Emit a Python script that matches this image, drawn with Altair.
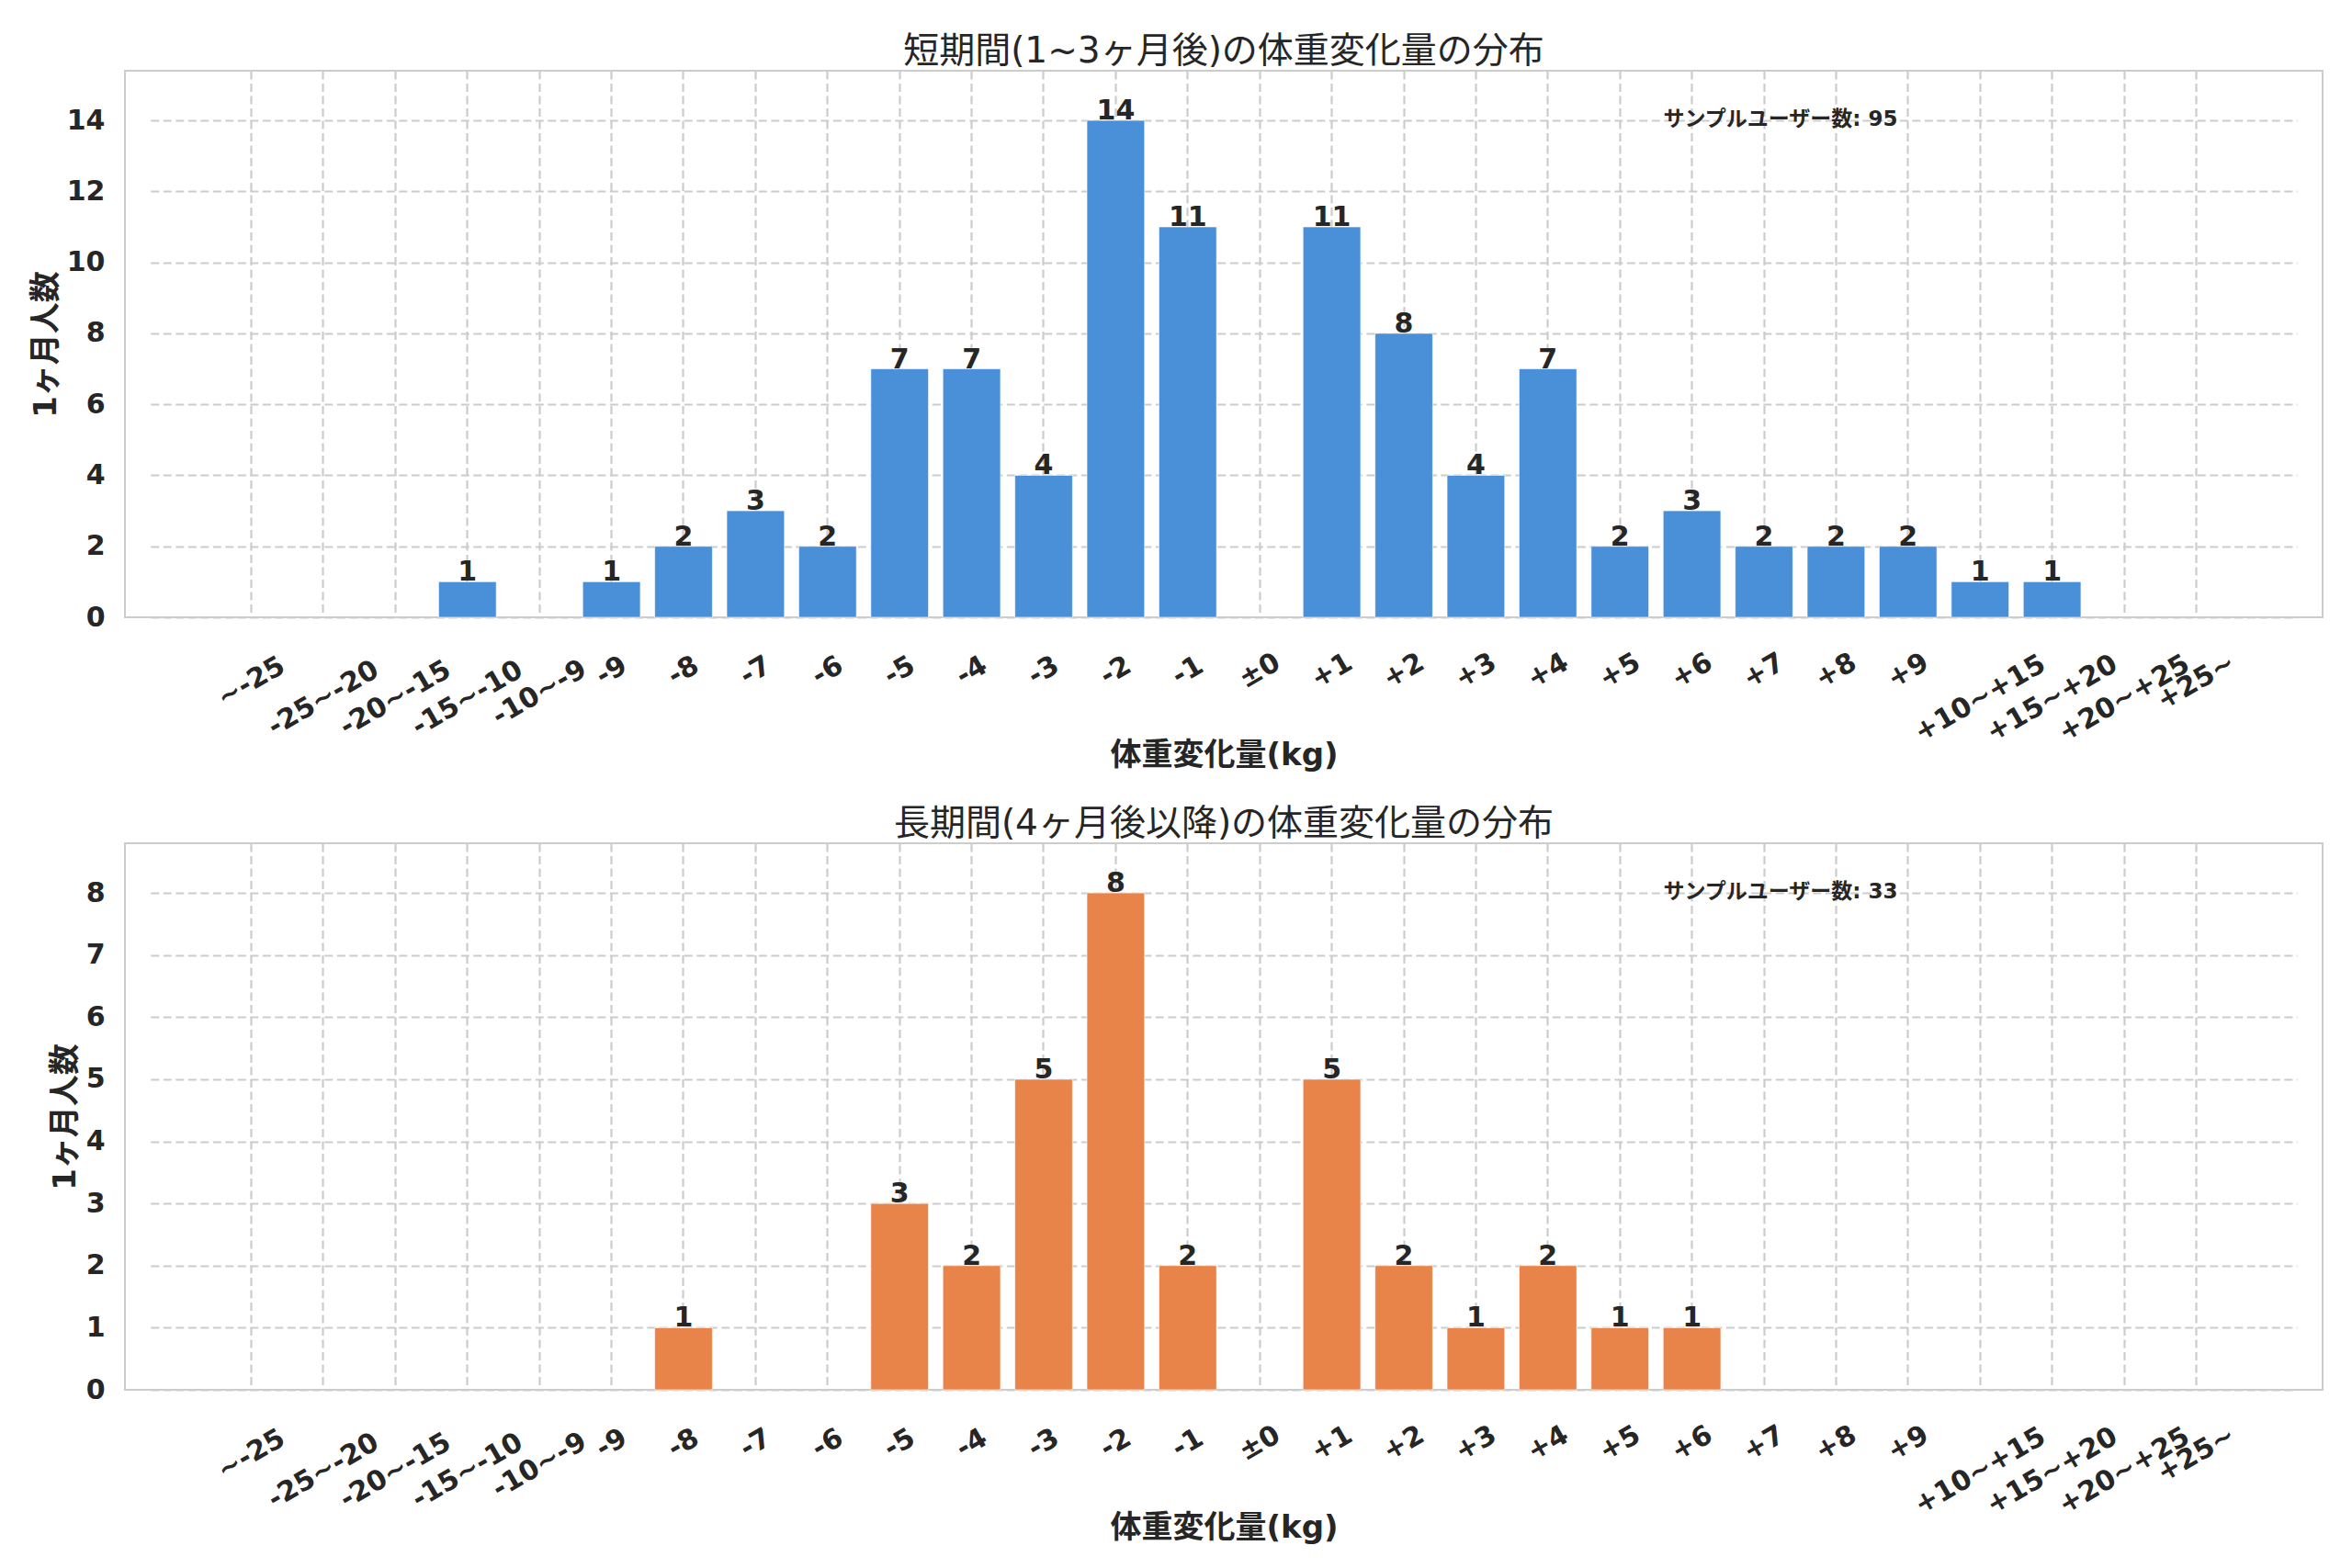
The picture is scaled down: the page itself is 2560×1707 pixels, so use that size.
import altair as alt
import pandas as pd

categories = ["~-25", "-25~-20", "-20~-15", "-15~-10", "-10~-9", "-9", "-8", "-7", "-6",
              "-5", "-4", "-3", "-2", "-1", "±0", "+1", "+2", "+3", "+4", "+5", "+6",
              "+7", "+8", "+9", "+10~+15", "+15~+20", "+20~+25", "+25~"]
short_counts = [0, 0, 0, 1, 0, 1, 2, 3, 2, 7, 7, 4, 14, 11, 0, 11, 8, 4, 7, 2, 3,
                2, 2, 2, 1, 1, 0, 0]
long_counts = [0, 0, 0, 0, 0, 0, 1, 0, 0, 3, 2, 5, 8, 2, 0, 5, 2, 1, 2, 1, 1,
               0, 0, 0, 0, 0, 0, 0]
short_yticks = [0, 2, 4, 6, 8, 10, 12, 14]
long_yticks = [0, 1, 2, 3, 4, 5, 6, 7, 8]

short_title = "短期間(1~3ヶ月後)の体重変化量の分布"
long_title = "長期間(4ヶ月後以降)の体重変化量の分布"
x_title = "体重変化量(kg)"
y_title = "1ヶ月人数"
note_label = "サンプルユーザー数"

short_color = "#4A90D9"
long_color = "#E8844A"

W, H = 2392, 595
FONT = "DejaVu Sans, Noto Sans CJK JP"
INK = "#262626"
GRID = "#cccccc"

# band layout: outer margin of 1.355 steps on each side (matplotlib-like x margins)
N = len(categories)
OUTER = 1.355
STEP = W / (N - 0.2 + 2 * OUTER)
EXTRA = (OUTER - 1) * STEP


def panel(counts, color, title, yticks):
    df = pd.DataFrame({"cat": categories, "n": counts})
    ymax = max(counts) * 1.1
    total = sum(counts)
    x = alt.X(
        "cat:N",
        sort=categories,
        title=x_title,
        scale=alt.Scale(domain=categories, paddingInner=0.2, paddingOuter=1,
                        range=[EXTRA, W - EXTRA]),
        axis=alt.Axis(
            labelAngle=330, labelAlign="center", labelBaseline="middle",
            labelPadding=alt.ExprRef(expr="46 + 6*length(datum.label)"),
            tickSize=0, ticks=False, domain=False, grid=True, bandPosition=0.5,
            gridDash=[9, 4.5], gridColor=GRID, gridWidth=2.2,
            labelFont=FONT, labelFontSize=30, labelFontWeight="bold", labelColor=INK,
            labelOverlap=False, labelBound=False, labelFlush=False,
            titleFont=FONT, titleFontSize=34, titleFontWeight="bold", titleColor=INK,
            titleY=160, titleBaseline="alphabetic",
        ),
    )
    y = alt.Y(
        "n:Q",
        title=y_title,
        scale=alt.Scale(domain=[0, ymax], nice=False, zero=True),
        axis=alt.Axis(
            values=yticks, format="d", tickSize=0, ticks=False, domain=False, grid=True,
            gridDash=[9, 4.5], gridColor=GRID, gridWidth=2.2,
            labelFont=FONT, labelFontSize=30, labelFontWeight="bold", labelColor=INK,
            labelPadding=22,
            titleFont=FONT, titleFontSize=34, titleFontWeight="bold", titleColor=INK,
            titlePadding=5,
        ),
    )
    base = alt.Chart(df).transform_filter("datum.n > 0")
    bars = base.mark_bar(color=color, stroke="white", strokeWidth=1, strokeOpacity=0.6).encode(x=x, y=y)
    labels = base.mark_text(
        baseline="alphabetic", dy=-1, font=FONT, fontSize=30, fontWeight="bold", color=INK
    ).encode(x=alt.X("cat:N", sort=categories), y=alt.Y("n:Q"), text=alt.Text("n:Q"))
    note = alt.Chart(pd.DataFrame({"t": [f"{note_label}: {total}"]})).mark_text(
        align="left", baseline="top", font=FONT, fontSize=23, fontWeight="bold", color=INK
    ).encode(x=alt.value(W * 0.7), y=alt.value(H * 0.05 + 12), text="t:N")
    return alt.layer(bars, labels, note).properties(
        width=W,
        height=H,
        title=alt.TitleParams(
            title, font=FONT, fontSize=39, fontWeight="normal", color=INK,
            offset=-30, baseline="alphabetic", anchor="middle",
        ),
    )


top = panel(short_counts, short_color, short_title, short_yticks)
bottom = panel(long_counts, long_color, long_title, long_yticks)

chart = (
    alt.vconcat(top, bottom, spacing=37)
    .properties(padding={"left": 24, "top": 28, "right": 10, "bottom": 10}, background="white")
    .configure_view(stroke=GRID, strokeWidth=2)
)

chart.save("out.html", embed_options={"renderer": "svg", "actions": False})
